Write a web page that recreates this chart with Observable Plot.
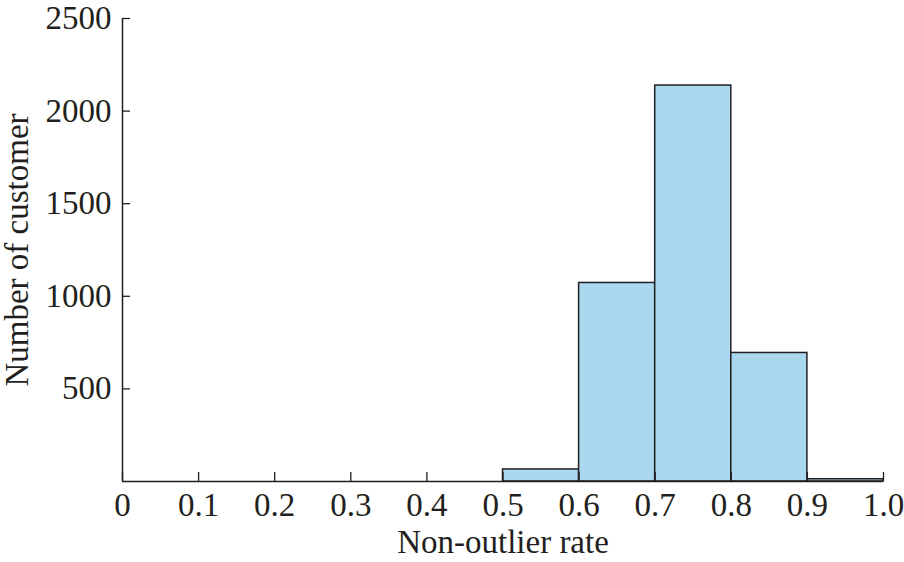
<!DOCTYPE html>
<html>
<head>
<meta charset="utf-8">
<script src="https://cdn.jsdelivr.net/npm/d3@7"></script>
<script src="https://cdn.jsdelivr.net/npm/@observablehq/plot@0.6"></script>
<style>
  html, body { margin: 0; padding: 0; background: #fff; }
</style>
</head>
<body>
<div id="chart"></div>
<script>
const binStart = [0, 0.1, 0.2, 0.3, 0.4, 0.5, 0.6, 0.7, 0.8, 0.9];
const binEnd   = [0.1, 0.2, 0.3, 0.4, 0.5, 0.6, 0.7, 0.8, 0.9, 1.0];
const counts   = [0, 0, 0, 0, 0, 65, 1072, 2138, 694, 12];
const xTicks = [0, 0.1, 0.2, 0.3, 0.4, 0.5, 0.6, 0.7, 0.8, 0.9, 1.0];
const yTicks = [500, 1000, 1500, 2000, 2500];

const data = binStart.map((s, i) => ({x1: s, x2: binEnd[i], y: counts[i]}));
const ink = "#231f20";

const chart = Plot.plot({
  width: 904,
  height: 562,
  marginLeft: 122,
  marginRight: 21,
  marginTop: 18,
  marginBottom: 81,
  style: {fontFamily: "'Liberation Serif', 'Times New Roman', serif", fontSize: "33px", color: ink, background: "#fff"},
  x: {domain: [0, 1]},
  y: {domain: [0, 2500]},
  marks: [
    Plot.rectY(data, {x1: "x1", x2: "x2", y: "y", fill: "#aad8ef", stroke: ink, strokeWidth: 1.5}),
    Plot.ruleX([0], {stroke: ink, strokeWidth: 1.5}),
    Plot.ruleY([0], {stroke: ink, strokeWidth: 1.5}),
    Plot.axisX({ticks: xTicks, tickSize: -9, tickPadding: 20, tickFormat: d => d === 0 ? "0" : d.toFixed(1),
      label: "Non-outlier rate", labelAnchor: "center", labelArrow: "none", labelOffset: 71, stroke: ink, fill: ink, strokeWidth: 1.3}),
    Plot.axisY({ticks: yTicks, tickSize: -8, tickPadding: 19, tickFormat: d => String(d),
      label: "Number of customer", labelAnchor: "center", labelArrow: "none", labelOffset: 118, stroke: ink, fill: ink, strokeWidth: 1.3})
  ]
});
document.getElementById("chart").appendChild(chart);
</script>
</body>
</html>
